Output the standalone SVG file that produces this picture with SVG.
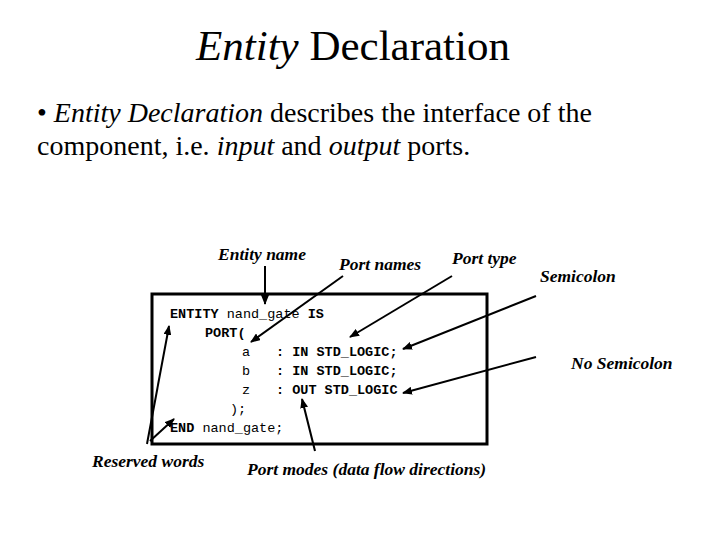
<svg xmlns="http://www.w3.org/2000/svg" width="720" height="540" viewBox="0 0 720 540">
<style>
.t{font-family:"Liberation Serif",serif;fill:#000}
.lb{font-family:"Liberation Serif",serif;font-weight:bold;font-style:italic;font-size:17.5px}
.c{font-family:"Liberation Mono",monospace;font-size:13.5px}
.k{font-weight:bold}
.a{stroke:#000;stroke-width:2;fill:none;marker-end:url(#ar)}
</style>
<defs><marker id="ar" markerWidth="10" markerHeight="8" refX="9" refY="4" orient="auto" markerUnits="userSpaceOnUse"><path d="M0,0L10,4L0,8z" fill="#000"/></marker></defs>
<rect width="720" height="540" fill="#fff"/>
<text class="t" x="353" y="60" font-size="43" text-anchor="middle"><tspan font-style="italic">Entity</tspan> Declaration</text>
<text class="t" x="37" y="122" font-size="28">• <tspan font-style="italic">Entity Declaration</tspan> describes the interface of the</text>
<text class="t" x="37" y="155" font-size="28">component, i.e. <tspan font-style="italic">input</tspan> and <tspan font-style="italic">output</tspan> ports.</text>
<g id="codebox">
<rect x="152" y="294" width="335" height="150" fill="none" stroke="#000" stroke-width="3"/>
<text class="c" x="170" y="318"><tspan class="k">ENTITY</tspan> nand_gate <tspan class="k">IS</tspan></text>
<text class="c k" x="205" y="337">PORT(</text>
<text class="c" x="242" y="356">a</text><text class="c k" x="276" y="356">: IN STD_LOGIC;</text>
<text class="c" x="242" y="375">b</text><text class="c k" x="276" y="375">: IN STD_LOGIC;</text>
<text class="c" x="242" y="394">z</text><text class="c k" x="276" y="394">: OUT STD_LOGIC</text>
<text class="c" x="230" y="413">);</text>
<text class="c" x="170" y="432"><tspan class="k">END</tspan> nand_gate;</text>
</g>
<g id="labels">
<text class="lb" x="218" y="260">Entity name</text>
<text class="lb" x="339" y="270">Port names</text>
<text class="lb" x="452" y="264">Port type</text>
<text class="lb" x="540" y="282">Semicolon</text>
<text class="lb" x="571" y="369">No Semicolon</text>
<text class="lb" x="92" y="467">Reserved words</text>
<text class="lb" x="247" y="475">Port modes (data flow directions)</text>
</g>
<g id="connectors">
<line class="a" x1="265" y1="266" x2="265" y2="304"/>
<line class="a" x1="343" y1="276" x2="251" y2="342"/>
<line class="a" x1="452" y1="276" x2="350" y2="337"/>
<line class="a" x1="536" y1="296" x2="403" y2="349"/>
<line class="a" x1="536" y1="357" x2="403" y2="393"/>
<line class="a" x1="147" y1="444" x2="169" y2="326"/>
<line class="a" x1="150" y1="441" x2="174" y2="419"/>
<line class="a" x1="315" y1="451" x2="302" y2="399"/>
</g>
</svg>
